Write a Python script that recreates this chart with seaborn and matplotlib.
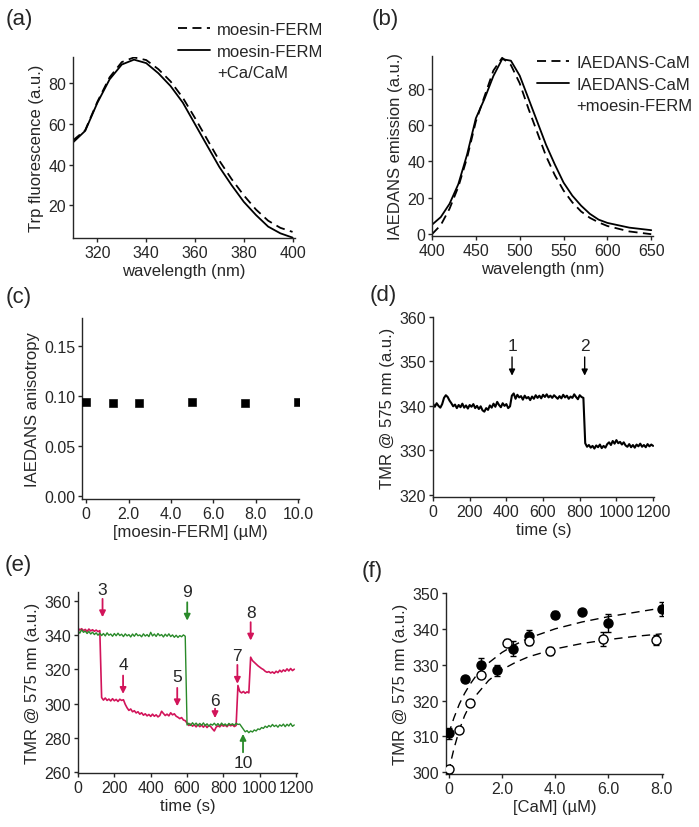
import numpy as np
import pandas as pd
import matplotlib
matplotlib.use("Agg")
import matplotlib.pyplot as plt
from matplotlib.lines import Line2D
import seaborn as sns

sns.set_style("ticks")
plt.rcParams['font.family'] = ['Liberation Sans', 'DejaVu Sans']
plt.rcParams['font.size'] = 11.5
plt.rcParams['xtick.labelsize'] = 11.5
plt.rcParams['ytick.labelsize'] = 11.5
plt.rcParams['axes.labelsize'] = 12

# (a) Trp fluorescence
wl_a = [310, 315, 320, 325, 330, 335, 340, 345, 350, 355, 360, 365, 370, 375, 380, 385, 390, 395, 400]
trp_ferm = [52, 57, 71, 83, 90.5, 92.8, 91.5, 87, 81, 73, 63, 52.5, 42, 33, 25, 18, 12.5, 9, 7]
trp_ferm_cam = [51, 56.7, 70.5, 82, 89.3, 91.7, 90, 85, 78.7, 70.6, 60, 49.4, 38.9, 30, 21.8, 15.3, 9.6, 6.3, 4.2]

# (b) IAEDANS emission
wl_b = [400, 410, 420, 430, 440, 450, 460, 470, 480, 490, 500, 510, 520, 530, 540, 550, 560, 570, 580, 590, 600, 625, 650]
dans_cam = [0, 5, 14, 26, 42, 62, 76, 90, 97, 93, 83, 69, 56, 43, 32.5, 24, 17.5, 12.5, 9, 6.5, 4.5, 1.5, 0]
dans_cam_ferm = [5.2, 9.4, 16.7, 27.5, 43.8, 63.7, 74.6, 87, 96.3, 95.4, 87.2, 74.6, 61.9, 49.2, 38.4, 28.4, 21.2, 15.7, 11.2, 8, 6.2, 3.6, 2.2]

# (c) anisotropy
ferm_conc = [0, 1.25, 2.5, 5.0, 7.5, 10.0]
aniso = [0.094, 0.093, 0.093, 0.094, 0.093, 0.094]
aniso_err = [0.001, 0.003, 0.001, 0.001, 0.001, 0.002]

# (d) TMR time trace
time_d = np.arange(0, 1201, 10)
tmr_d = [340.5, 339.8, 340.6, 340.0, 339.6, 340.4, 341.8, 342.4, 342.0, 341.2,
         340.6, 339.9, 340.3, 339.5, 340.2, 339.7, 340.5, 339.6, 340.1, 339.4,
         340.2, 339.8, 340.4, 339.5, 340.0, 339.3, 339.9, 339.0, 338.7, 339.5,
         339.1, 340.1, 339.6, 340.5, 339.8, 340.9, 340.2, 339.7, 340.6, 340.0,
         340.4, 339.5, 339.9, 342.3, 342.8, 341.6, 342.5, 341.9, 342.2, 341.4,
         342.3, 341.7, 342.0, 341.3, 342.1, 341.6, 342.4, 341.8, 342.3, 341.7,
         342.5, 342.0, 342.6, 341.9, 342.3, 341.8, 342.4, 342.0, 341.6, 342.2,
         341.7, 342.5, 341.9, 342.3, 341.6, 342.1, 341.8, 342.6, 342.0, 341.5,
         342.4, 342.0, 341.8, 331.6, 330.8, 331.2, 330.6, 331.0, 330.4, 331.1,
         330.7, 331.3, 330.5, 331.0, 330.6, 331.4, 331.8, 331.2, 332.1, 331.5,
         332.3, 331.6, 331.9, 331.3, 331.8, 331.1, 330.8, 331.4, 330.7, 331.2,
         330.6, 331.3, 330.9, 331.5, 330.8, 331.2, 330.7, 331.4, 330.9, 331.3,
         331.0]

# (e) TMR time traces, two experiments
time_e = np.arange(0, 1191, 10)
tmr_green = [342.5, 341.0, 343.0, 341.5, 342.2, 340.8, 342.0, 340.5, 341.6, 340.2,
             341.2, 339.8, 341.0, 339.6, 340.8, 339.4, 341.2, 339.8, 340.5, 339.2,
             340.8, 339.5, 341.0, 339.6, 340.4, 339.0, 340.6, 339.4, 340.2, 338.8,
             340.5, 339.2, 340.8, 339.5, 340.0, 338.9, 340.6, 339.3, 340.2, 339.0,
             341.5, 339.4, 340.5, 339.1, 340.8, 339.5, 340.2, 338.8, 340.4, 339.2,
             340.6, 339.0, 340.0, 338.6, 339.8, 338.5, 339.6, 338.9, 340.0, 339.2,
             287.5, 288.5, 287.2, 288.8, 287.5, 288.6, 287.0, 288.4, 287.3, 288.7,
             287.1, 288.2, 286.8, 288.0, 287.4, 288.5, 287.2, 288.3, 287.0, 288.6,
             287.4, 288.1, 287.0, 288.4, 287.6, 288.2, 287.3, 288.5, 287.8, 288.0,
             286.5, 285.0, 283.5, 284.2, 283.0, 284.0, 283.4, 284.6, 284.0, 285.2,
             284.8, 286.0, 285.5, 286.8, 286.0, 287.2, 286.4, 287.8, 286.6, 287.4,
             286.2, 287.6, 286.8, 288.0, 286.5, 287.9, 286.9, 288.4, 286.7, 287.5]
tmr_magenta = [344.0, 342.8, 343.6, 342.5, 343.2, 342.0, 343.4, 342.3, 343.0, 342.1,
               342.8, 341.9, 342.5, 303.5, 302.0, 303.2, 301.8, 302.6, 301.5, 302.8,
               301.6, 302.4, 301.2, 302.5, 301.8, 302.2, 299.5, 297.5, 296.0, 296.8,
               295.2, 295.8, 294.5, 295.2, 293.8, 294.6, 293.2, 294.0, 292.8, 293.6,
               292.5, 293.8, 292.6, 293.4, 292.2, 293.0, 295.5, 294.2, 293.0, 293.8,
               292.8, 294.6, 293.4, 294.0, 292.6, 292.0, 291.2, 291.8, 290.4, 290.0,
               288.6, 287.2, 288.0, 286.8, 287.6, 286.4, 287.8, 286.5, 287.4, 286.2,
               287.5, 286.0, 287.2, 286.6, 285.2, 284.0, 286.2, 287.0, 286.4, 287.6,
               286.8, 287.4, 286.5, 287.8, 287.0, 287.6, 286.6, 287.2, 310.5, 307.0,
               306.2, 307.0, 306.0, 306.8, 306.2, 327.0, 325.0, 324.0, 323.0, 322.0,
               321.2, 320.4, 319.8, 318.8, 318.2, 318.6, 317.8, 318.4, 317.6, 318.8,
               318.0, 319.4, 318.4, 319.6, 318.8, 320.2, 319.0, 320.4, 319.2, 320.0]

# (f) titration with CaM
cam_filled = [0, 0.6, 1.2, 1.8, 2.4, 3.0, 4.0, 5.0, 6.0, 8.0]
tmr_filled = [310.9, 326.1, 330.0, 328.4, 334.5, 338.1, 343.9, 344.8, 341.7, 345.6]
err_filled = [1.5, 0.5, 2.0, 1.5, 2.0, 1.5, 1.0, 0.5, 2.5, 2.0]
cam_open = [0, 0.4, 0.8, 1.2, 2.2, 3.0, 3.8, 5.8, 7.8]
tmr_open = [300.8, 311.8, 319.3, 327.2, 336.1, 336.6, 333.8, 337.1, 336.9]
err_open = [1.0, 0.5, 0.5, 0.5, 1.0, 1.0, 1.0, 2.0, 1.5]
fit_x = [0, 0.1, 0.2, 0.4, 0.6, 0.8, 1.0, 1.5, 2.0, 2.5, 3.0, 4.0, 5.0, 6.0, 7.0, 8.0]
fit_filled = [310.6, 313.0, 315.2, 319.0, 322.0, 324.5, 326.6, 330.5, 333.4, 335.6, 337.4, 340.0, 341.9, 343.4, 344.6, 345.8]
fit_open = [300.0, 303.5, 306.6, 311.8, 315.8, 318.8, 321.2, 325.6, 328.6, 330.6, 332.2, 334.4, 335.9, 337.0, 337.9, 338.6]

magenta = '#d2145a'
green = '#2a8a2a'
dashes = (0, (5, 3))

fig = plt.figure(figsize=(6.99, 8.28), dpi=100)
W, H = 699, 828


def add_ax(l, t, r, b):
    return fig.add_axes([l / W, 1 - b / H, (r - l) / W, (b - t) / H])


ax_a = add_ax(73, 58, 295, 239)
ax_b = add_ax(432, 57, 653, 237)
ax_c = add_ax(82, 319, 299, 500)
ax_d = add_ax(433, 318, 654, 498)
ax_e = add_ax(78, 593, 297, 774)
ax_f = add_ax(446, 594, 663, 775)


def two_line_legend(ax, first, second, anchor):
    handles = [Line2D([], [], color='black', lw=1.3, linestyle=dashes),
               Line2D([], [], color='black', lw=1.3),
               Line2D([], [], color='none')]
    ax.legend(handles, [first, first, second], loc='upper left', bbox_to_anchor=anchor,
              frameon=False, handlelength=1.9, handletextpad=0.45, labelspacing=0.4,
              borderaxespad=0, borderpad=0, fontsize=12)


# (a)
sns.lineplot(x=wl_a, y=trp_ferm, ax=ax_a, color='black', lw=1.3, linestyle=dashes)
sns.lineplot(x=wl_a, y=trp_ferm_cam, ax=ax_a, color='black', lw=1.3)
ax_a.set_xlim(310, 401)
ax_a.set_ylim(4, 93)
ax_a.set_xticks([320, 340, 360, 380, 400])
ax_a.set_yticks([20, 40, 60, 80])
ax_a.set_xlabel('wavelength (nm)')
ax_a.set_ylabel('Trp fluorescence (a.u.)')
two_line_legend(ax_a, 'moesin-FERM', '+Ca/CaM', ((178 - 73) / 222, (239 - 23) / 181))

# (b)
sns.lineplot(x=wl_b, y=dans_cam, ax=ax_b, color='black', lw=1.3, linestyle=dashes)
sns.lineplot(x=wl_b, y=dans_cam_ferm, ax=ax_b, color='black', lw=1.3)
ax_b.set_xlim(400, 652)
ax_b.set_ylim(-1, 98)
ax_b.set_xticks([400, 450, 500, 550, 600, 650])
ax_b.set_yticks([0, 20, 40, 60, 80])
ax_b.set_xlabel('wavelength (nm)')
ax_b.set_ylabel('IAEDANS emission (a.u.)')
two_line_legend(ax_b, 'IAEDANS-CaM', '+moesin-FERM', ((537 - 432) / 221, (237 - 56) / 180))

# (c)
ax_c.errorbar(ferm_conc, aniso, yerr=aniso_err, fmt='none', ecolor='0.5', elinewidth=1.5, capsize=0)
sns.scatterplot(x=ferm_conc, y=aniso, ax=ax_c, marker='s', color='black', s=30, edgecolor='black', zorder=3)
ax_c.set_xlim(-0.2, 10.05)
ax_c.set_ylim(-0.003, 0.178)
ax_c.set_xticks([0, 2, 4, 6, 8, 10])
ax_c.set_xticklabels(['0', '2.0', '4.0', '6.0', '8.0', '10.0'])
ax_c.set_yticks([0, 0.05, 0.10, 0.15])
ax_c.set_yticklabels(['0.00', '0.05', '0.10', '0.15'])
ax_c.set_xlabel('[moesin-FERM] (\u00b5M)')
ax_c.set_ylabel('IAEDANS anisotropy')

# (d)
sns.lineplot(x=time_d, y=tmr_d, ax=ax_d, color='black', lw=1.5)
ax_d.set_xlim(0, 1205)
ax_d.set_ylim(319.5, 360)
ax_d.set_xticks(range(0, 1201, 200))
ax_d.set_yticks([320, 330, 340, 350, 360])
ax_d.set_xlabel('time (s)')
ax_d.set_ylabel('TMR @ 575 nm (a.u.)')
for lab, tx in [('1', 431), ('2', 827)]:
    ax_d.annotate('', xy=(tx, 346.8), xytext=(tx, 351.0),
                  arrowprops=dict(arrowstyle='-|>', color='black', lw=1.0, mutation_scale=9,
                                  shrinkA=0, shrinkB=0))
    ax_d.text(tx, 353.6, lab, ha='center', va='center', fontsize=12.5)

# (e)
sns.lineplot(x=time_e, y=tmr_magenta, ax=ax_e, color=magenta, lw=1.2)
sns.lineplot(x=time_e, y=tmr_green, ax=ax_e, color=green, lw=1.0)
ax_e.set_xlim(0, 1205)
ax_e.set_ylim(259.5, 365)
ax_e.set_xticks(range(0, 1201, 200))
ax_e.set_yticks([260, 280, 300, 320, 340, 360])
ax_e.set_xlabel('time (s)', labelpad=1)
ax_e.set_ylabel('TMR @ 575 nm (a.u.)')
arrows_e = [('3', 135, 361.0, 350.3, 366.4, magenta),
            ('9', 601, 359.0, 348.3, 365.4, green),
            ('4', 248, 316.3, 305.6, 322.5, magenta),
            ('5', 546, 309.1, 298.4, 316.0, magenta),
            ('6', 754, 297.0, 291.5, 301.7, magenta),
            ('7', 877, 322.5, 311.5, 328.0, magenta),
            ('8', 950, 347.4, 336.7, 353.2, magenta),
            ('10', 908, 271.6, 282.3, 265.8, green)]
for lab, tx, y0, y1, ylab, col in arrows_e:
    ax_e.annotate('', xy=(tx, y1), xytext=(tx, y0), annotation_clip=False,
                  arrowprops=dict(arrowstyle='-|>', color=col, lw=1.3, mutation_scale=9,
                                  shrinkA=0, shrinkB=0))
    ax_e.text(tx, ylab, lab, ha='center', va='center', fontsize=12.5, clip_on=False)

# (f)
sns.lineplot(x=fit_x, y=fit_filled, ax=ax_f, color='black', lw=1.0, linestyle=(0, (6, 4)))
sns.lineplot(x=fit_x, y=fit_open, ax=ax_f, color='black', lw=1.0, linestyle=(0, (6, 4)))
ax_f.errorbar(cam_filled, tmr_filled, yerr=err_filled, fmt='o', color='black', ms=6.5,
              elinewidth=1.0, capsize=2.5, zorder=3)
ax_f.errorbar(cam_open, tmr_open, yerr=err_open, fmt='o', color='black', mfc='white', ms=6.5,
              elinewidth=1.0, capsize=2.5, zorder=3)
ax_f.set_xlim(-0.1, 8.05)
ax_f.set_ylim(299.5, 350)
ax_f.set_xticks([0, 2, 4, 6, 8])
ax_f.set_xticklabels(['0', '2.0', '4.0', '6.0', '8.0'])
ax_f.set_yticks([300, 310, 320, 330, 340, 350])
ax_f.set_xlabel('[CaM] (\u00b5M)')
ax_f.set_ylabel('TMR @ 575 nm (a.u.)')

for ax in [ax_a, ax_b, ax_c, ax_d, ax_e, ax_f]:
    sns.despine(ax=ax)
    ax.tick_params(direction='out', length=3, width=1, pad=2)
    for sp in ['left', 'bottom']:
        ax.spines[sp].set_linewidth(1.0)
    ax.yaxis.labelpad = 3
    ax.xaxis.labelpad = 2

panel_labels = [('(a)', 6, 20), ('(b)', 372, 20), ('(c)', 6, 298), ('(d)', 370, 295), ('(e)', 5, 566), ('(f)', 362, 572)]
for lab, px, py in panel_labels:
    fig.text(px / W, 1 - py / H, lab, fontsize=16, ha='left', va='center')

fig.savefig('out.png', dpi=100)
